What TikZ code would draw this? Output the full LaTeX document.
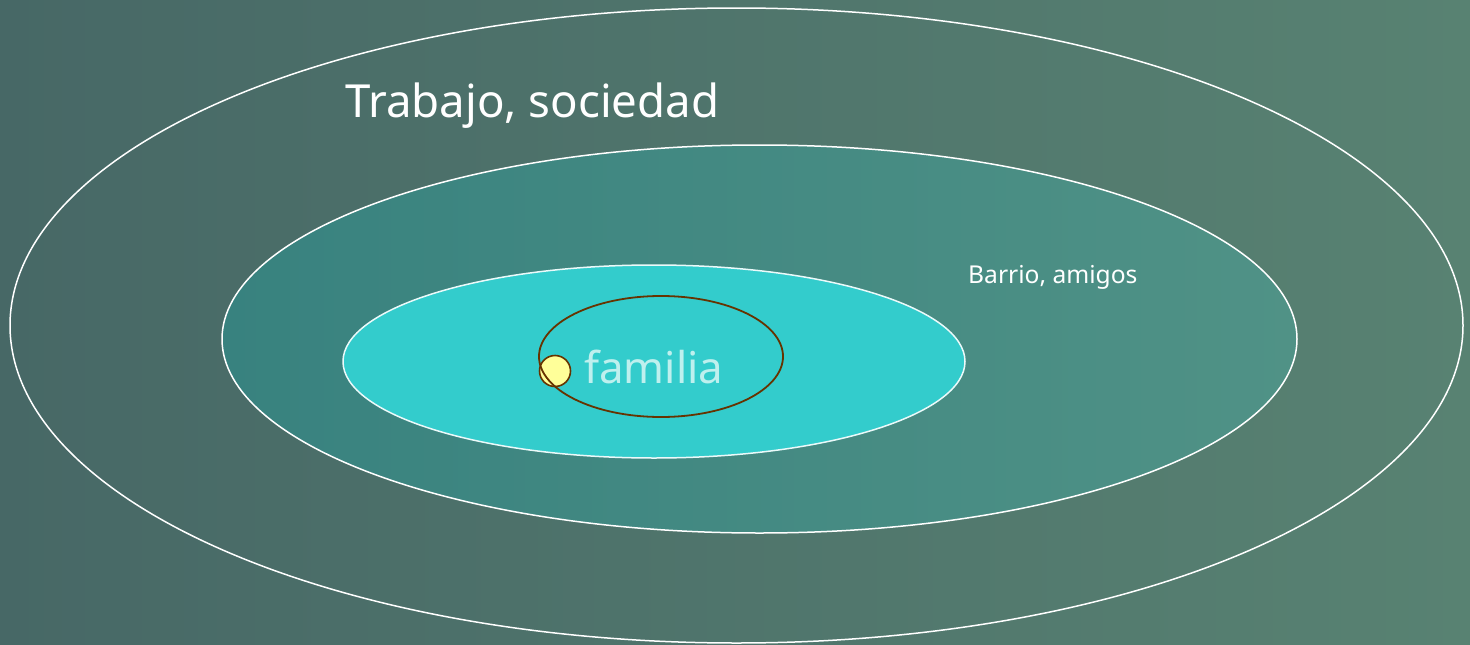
\documentclass[tikz,border=0pt]{standalone}
\usepackage{fontspec}
\setmainfont{Noto Sans}
\definecolor{bgL}{RGB}{71,104,102}
\definecolor{bgR}{RGB}{88,130,114}
\definecolor{midL}{RGB}{56,130,127}
\definecolor{midR}{RGB}{80,146,134}
\definecolor{inner}{RGB}{51,204,204}
\definecolor{brown}{RGB}{102,51,0}
\definecolor{sun}{RGB}{255,255,153}
\definecolor{famtext}{RGB}{190,240,238}
\tikzset{
  ring/.style={draw=white, line width=1.5pt},
  label/.style={text=white, inner sep=0pt, anchor=base west},
}
\begin{document}
\begin{tikzpicture}[x=1pt,y=-1pt]
\shade[left color=bgL, right color=bgR] (0,0) rectangle (1470,645);
\useasboundingbox (0,0) rectangle (1470,645);
\draw[ring] (736.5,325.5) ellipse [x radius=726.5, y radius=317.5];
\shade[left color=midL, right color=midR] (759.5,339) ellipse [x radius=537.5, y radius=194];
\draw[ring] (759.5,339) ellipse [x radius=537.5, y radius=194];
\draw[ring, fill=inner, draw=white!90!inner] (654,361.5) ellipse [x radius=311, y radius=96.5];
\node[circle, fill=sun, draw=brown, line width=1.6pt, minimum size=31pt, inner sep=0pt] (sun) at (555,371) {};
\draw[brown, line width=1.8pt] (661,356.5) ellipse [x radius=122, y radius=60.5];
\node[label, font=\fontsize{43.8}{50}\selectfont, text=famtext] (fam) at (584,383) {familia};
\node[label, font=\fontsize{45.6}{52}\selectfont] (trab) at (345,117) {Trabajo, sociedad};
\node[label, font=\fontsize{24.6}{29}\selectfont] (barrio) at (968,283) {Barrio, amigos};
\end{tikzpicture}
\end{document}
